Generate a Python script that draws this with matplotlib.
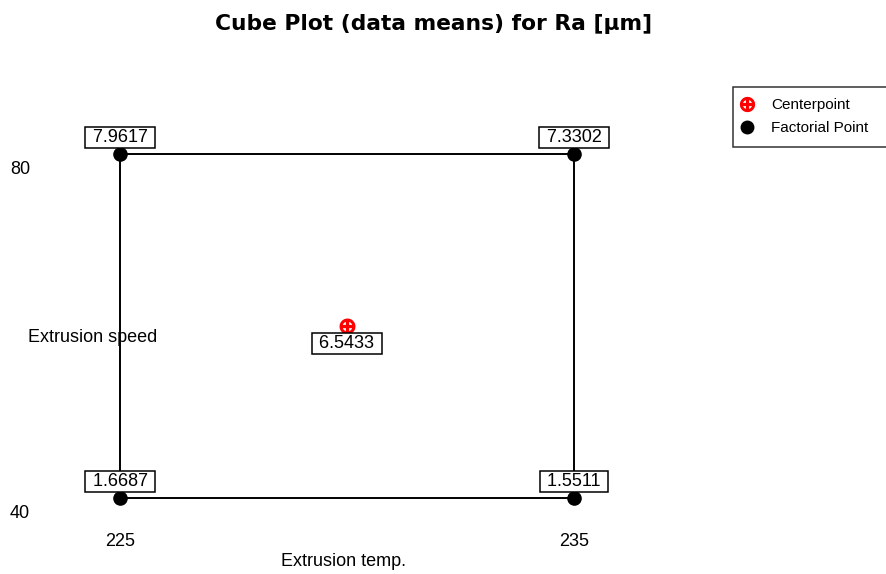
import matplotlib.pyplot as plt
from matplotlib.lines import Line2D
from matplotlib.transforms import blended_transform_factory

plt.rcParams['font.family'] = ['Liberation Sans', 'DejaVu Sans']

# factor levels and cell means
temp_levels = [225, 235]
speed_levels = [40, 80]
corner_temp = [225, 235, 225, 235]
corner_speed = [40, 40, 80, 80]
corner_means = [1.6687, 1.5511, 7.9617, 7.3302]
center_temp = [230]
center_speed = [60]
center_means = [6.5433]

fig = plt.figure(figsize=(8.87, 5.74), dpi=100)
W, H = 887, 574
ax = fig.add_axes([120 / W, (H - 498) / H, 454 / W, 344 / H])
ax.set_xlim(temp_levels[0], temp_levels[1])
ax.set_ylim(speed_levels[0], speed_levels[1])
ax.axis('off')

# cube edges
t0, t1 = temp_levels
s0, s1 = speed_levels
ax.plot([t0, t1, t1, t0, t0], [s0, s0, s1, s1, s0], color='black', lw=1.4,
        clip_on=False, zorder=1)

ax.scatter(corner_temp, corner_speed, s=90, color='black', zorder=3, clip_on=False)
ax.scatter(center_temp, center_speed, s=110, marker=r'$\oplus$', color='red',
           zorder=3, clip_on=False)

box = dict(boxstyle='square,pad=0.12', fc='white', ec='black', lw=1.1)
for t, s, m in zip(corner_temp, corner_speed, corner_means):
    ax.annotate(' %.4f ' % m, (t, s), xytext=(0, 6), textcoords='offset points',
                ha='center', va='bottom', fontsize=13, bbox=box, zorder=4)
for t, s, m in zip(center_temp, center_speed, center_means):
    ax.annotate(' %.4f ' % m, (t, s), xytext=(0, -6.5), textcoords='offset points',
                ha='center', va='top', fontsize=13, bbox=box, zorder=4)

# level labels
bx = blended_transform_factory(ax.transData, fig.transFigure)
for t in temp_levels:
    ax.text(t, 1 - 541 / H, str(t), transform=bx, ha='center', va='center',
            fontsize=13)
for s in speed_levels:
    ax.annotate(str(s), (10 / W, s), xycoords=('figure fraction', 'data'),
                xytext=(0, -5), textcoords='offset points', ha='left', va='top',
                fontsize=13)

fig.text(344 / W, 1 - 561 / H, 'Extrusion temp.', ha='center', va='center', fontsize=13)
fig.text(28 / W, 1 - 337 / H, 'Extrusion speed', ha='left', va='center', fontsize=13,
         zorder=0)

fig.text(434 / W, 1 - 24 / H, 'Cube Plot (data means) for Ra [µm]', ha='center',
         va='center', fontsize=15.7, fontweight='bold', family='DejaVu Sans')

handles = [
    Line2D([], [], ls='none', marker=r'$\oplus$', color='red', markersize=10),
    Line2D([], [], ls='none', marker='o', color='black', markersize=9),
]
leg = fig.legend(handles, ['Centerpoint', 'Factorial Point'], loc='upper left',
                 bbox_to_anchor=(733 / W, 1 - 87 / H, 180 / W, 0), mode='expand',
                 fontsize=11, frameon=True, fancybox=False, handlelength=0.3,
                 handletextpad=1.45, borderaxespad=0, borderpad=0.75,
                 labelspacing=0.58)
leg.get_frame().set_edgecolor('black')
leg.get_frame().set_linewidth(1.1)

fig.savefig('out.png', dpi=100)
